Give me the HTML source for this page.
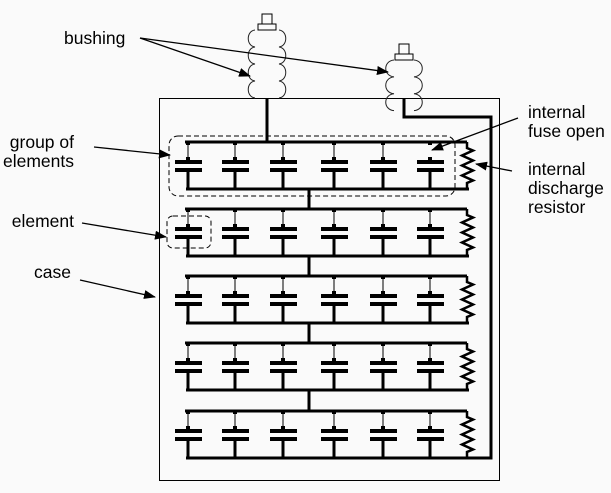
<!DOCTYPE html>
<html><head><meta charset="utf-8"><style>
html,body{margin:0;padding:0;background:#fafafa;}
svg{display:block;font-family:"Liberation Sans",Arial,sans-serif;font-size:17.5px;}
</style></head><body>
<svg id="s" width="611" height="493" viewBox="0 0 611 493" xmlns="http://www.w3.org/2000/svg">
<defs><marker id="a" markerWidth="12" markerHeight="9" refX="11" refY="4.5" orient="auto" markerUnits="userSpaceOnUse"><path d="M0,0 L12,4.5 L0,9 z" fill="#000"/></marker></defs>
<rect x="159.5" y="98.5" width="340" height="382" fill="none" stroke="#000" stroke-width="1"/>
<g id="g"></g>
<text x="64" y="44">bushing</text>
<text x="74" y="148" text-anchor="end">group of</text>
<text x="74" y="167" text-anchor="end">elements</text>
<text x="74" y="227" text-anchor="end">element</text>
<text x="71" y="278" text-anchor="end">case</text>
<text x="528" y="118">internal</text>
<text x="528" y="137">fuse open</text>
<text x="528" y="175">internal</text>
<text x="528" y="194">discharge</text>
<text x="528" y="213">resistor</text>
<g stroke="#000" stroke-width="1.3" fill="none" marker-end="url(#a)">
<line x1="140" y1="38" x2="250" y2="76"/>
<line x1="140" y1="38" x2="388" y2="72"/>
<line x1="94" y1="147" x2="170" y2="155"/>
<line x1="82" y1="223" x2="166" y2="237"/>
<line x1="80" y1="280" x2="155" y2="297"/>
<line x1="518" y1="118" x2="432" y2="150"/>
<line x1="512" y1="171" x2="476" y2="164"/>
</g>
</svg>
<script>
var g=document.getElementById('g'),h='';
function L(x1,y1,x2,y2,w){h+='<line x1="'+x1+'" y1="'+y1+'" x2="'+x2+'" y2="'+y2+'" stroke="#000" stroke-width="'+w+'"/>';}
function R(x,y,w,hh,f){h+='<rect x="'+x+'" y="'+y+'" width="'+w+'" height="'+hh+'" fill="'+f+'" stroke="#000" stroke-width="1"/>';}
var xs=[188,235,283,334,383,430];
var tops=[142,209,276,343,411];
tops.forEach(function(t,r){
  var b=t+47;
  L(185,t,467,t,3);L(186,b,469,b,3);
  xs.forEach(function(x,i){
    if(!(r==0&&i==5)){L(x,t,x,t+19,1);}
    h+='<rect x="'+(x-2)+'" y="'+(t-1)+'" width="4" height="4"/>';
    h+='<rect x="'+(x-2)+'" y="'+(t+15)+'" width="4" height="4"/>';
    h+='<rect x="'+(x-13)+'" y="'+(t+18)+'" width="27" height="4"/>';
    h+='<rect x="'+(x-13)+'" y="'+(t+26)+'" width="27" height="4"/>';
    L(x,t+30,x,b,3);
  });
  var p='M467,'+t+' L467,'+(t+6);var n=7,sy=(b-6-(t+6))/n;
  for(var k=0;k<n;k++){var yy=t+6+sy*(k+0.5);p+=' L'+(k%2?462:473)+','+yy.toFixed(1);}
  p+=' L467,'+(b-6)+' L467,'+b;
  h+='<path d="'+p+'" fill="none" stroke="#000" stroke-width="2.5"/>';
  if(r<4)L(309,b,309,tops[r+1],3);
});
L(267,98,267,142,3);
h+='<polyline points="404,98 404,117 491,117 491,458 467,458" fill="none" stroke="#000" stroke-width="3"/>';
h+='<rect x="169" y="136" width="286" height="60" rx="9" fill="none" stroke="#000" stroke-dasharray="5,3" stroke-width="1"/>';
h+='<rect x="167" y="216" width="44" height="32" rx="6" fill="none" stroke="#000" stroke-dasharray="5,3" stroke-width="1"/>';
function bush(cx,ytop,n,yb,hw,nw){
  R(cx-5,ytop,10,10,'#fafafa');R(cx-9,ytop+10,18,6,'#fafafa');
  var y0=ytop+16,s=(yb-y0)/n,pl='M'+(cx-nw)+','+y0,pr='M'+(cx+nw)+','+y0;
  for(var k=0;k<n;k++){var a=y0+s*k,c=a+s;
    pl+=' C'+(cx-hw-6)+','+(a+1)+' '+(cx-hw-6)+','+(c-1)+' '+(cx-nw)+','+c;
    pr+=' C'+(cx+hw+6)+','+(a+1)+' '+(cx+hw+6)+','+(c-1)+' '+(cx+nw)+','+c;}
  h+='<path d="'+pl+'" fill="none" stroke="#222" stroke-width="1"/><path d="'+pr+'" fill="none" stroke="#222" stroke-width="1"/>';
}
bush(267,14,4,98,15,12);
bush(404,44,2.25,98,15,10);
g.innerHTML=h;
</script>
</body></html>
